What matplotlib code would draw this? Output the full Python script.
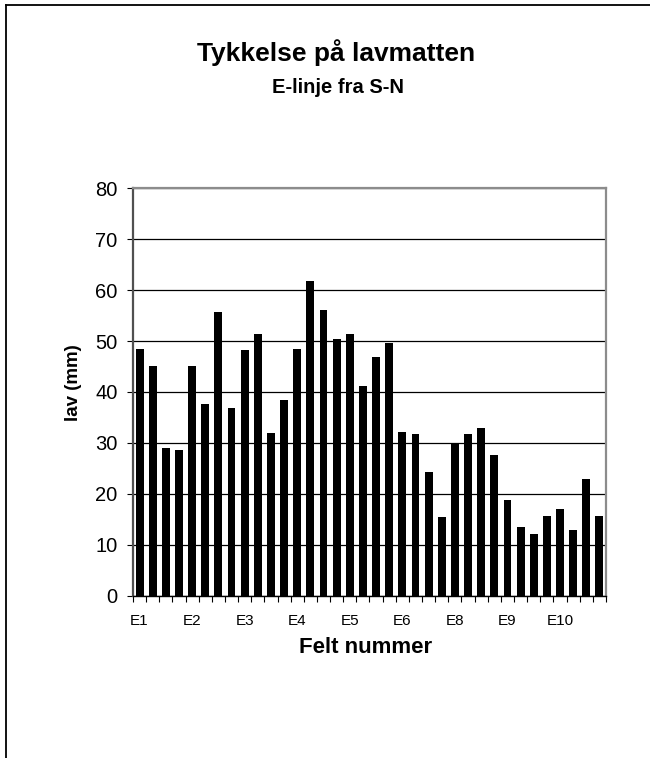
"""Tykkelse på lavmatten - bar chart of lichen mat thickness along the E line."""
import matplotlib.pyplot as plt
from matplotlib.lines import Line2D

plt.rcParams['font.family'] = ['Liberation Sans', 'DejaVu Sans']

# thickness per field (mm)
thickness = [48.4, 45.2, 29.1, 28.7, 45.2, 37.7, 55.7, 36.9, 48.2, 51.4,
             31.9, 38.5, 48.4, 61.8, 56.1, 50.4, 51.4, 41.2, 46.9, 49.6,
             32.1, 31.8, 24.2, 15.4, 29.8, 31.8, 32.9, 27.6, 18.7, 13.4,
             12.2, 15.6, 17.0, 13.0, 23.0, 15.7]
# only every fourth field is labelled on the axis
tick_labels = ['E1', 'E2', 'E3', 'E4', 'E5', 'E6', 'E8', 'E9', 'E10']
label_step = 4

fig = plt.figure(figsize=(6.5, 7.58), dpi=100)
ax = fig.add_axes([0.2046, 0.2141, 0.7277, 0.5375])

positions = list(range(len(thickness)))
ax.bar(positions, thickness, width=0.6, color='black', zorder=3)

# axes limits and ticks (Excel style: tick marks between categories)
ax.set_xlim(-0.5, len(thickness) - 0.5)
ax.set_ylim(0, 80)
ax.set_yticks(range(0, 81, 10))
ax.set_xticks(positions[::label_step])
ax.set_xticklabels(tick_labels, fontsize=11)
ax.set_xticks([p - 0.5 for p in positions] + [len(thickness) - 0.5], minor=True)
ax.tick_params(axis='x', which='major', length=0, pad=13)
ax.tick_params(axis='x', which='minor', length=4, width=0.8, direction='out')
ax.tick_params(axis='y', length=4, width=0.8, direction='out', labelsize=14.5, pad=7)

# horizontal gridlines
ax.yaxis.grid(True, color='black', linewidth=0.9, zorder=0)
ax.set_axisbelow(True)

# plot area frame
for side in ('top', 'right'):
    ax.spines[side].set_color('#8c8c8c')
    ax.spines[side].set_linewidth(1.6)
ax.spines['left'].set_color('#505050')
ax.spines['left'].set_linewidth(1.6)
ax.spines['bottom'].set_color('black')
ax.spines['bottom'].set_linewidth(1.0)

# titles and axis labels
fig.text(0.517, 0.9195, 'Tykkelse på lavmatten', ha='center', va='baseline',
         fontsize=19, fontweight='bold')
fig.text(0.52, 0.8777, 'E-linje fra S-N', ha='center', va='baseline',
         fontsize=14.5, fontweight='bold')
fig.text(0.5623, 0.1385, 'Felt nummer', ha='center', va='baseline',
         fontsize=16, fontweight='bold')
fig.text(0.113, 0.495, 'lav (mm)', ha='center', va='center', rotation=90,
         fontsize=13.5, fontweight='bold')

# chart area border (only top and left edges are visible)
fig.add_artist(Line2D([0.0095, 1.0], [0.9934, 0.9934], color='black',
                      linewidth=1.3, transform=fig.transFigure))
fig.add_artist(Line2D([0.0095, 0.0095], [0.0, 0.9934], color='black',
                      linewidth=1.3, transform=fig.transFigure))

fig.savefig('out.png', dpi=100)
